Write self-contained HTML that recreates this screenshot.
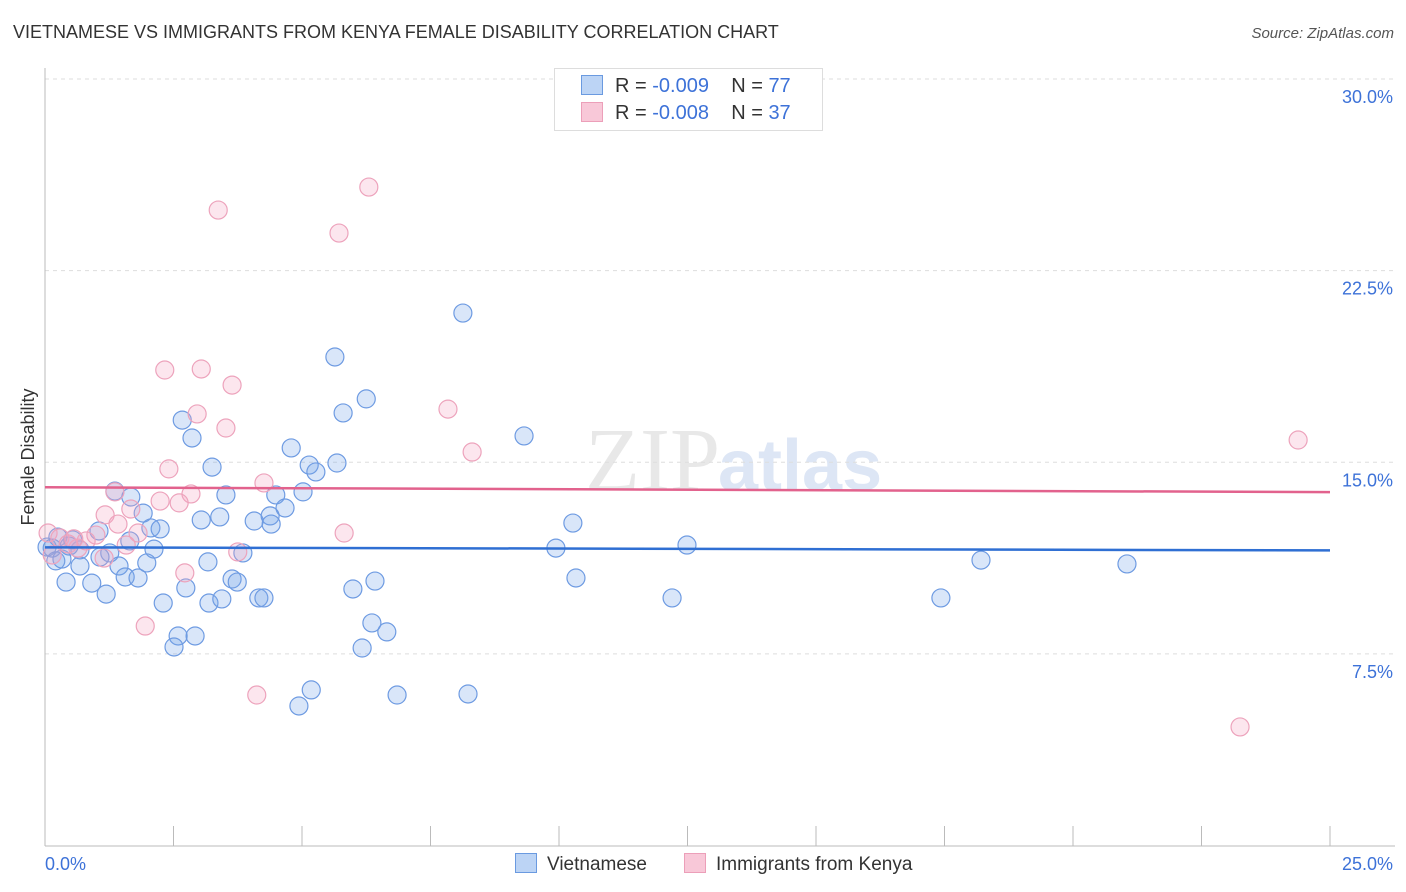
<!DOCTYPE html>
<html><head><meta charset="utf-8"><style>
body{margin:0;background:#fff;font-family:"Liberation Sans",sans-serif;}
#wrap{position:relative;width:1406px;height:892px;overflow:hidden;}
.t{position:absolute;white-space:nowrap;}
</style></head><body>
<div id="wrap">
<div class="t" style="left:13px;top:22px;font-size:18px;color:#333;">VIETNAMESE VS IMMIGRANTS FROM KENYA FEMALE DISABILITY CORRELATION CHART</div>
<div class="t" style="right:12px;top:25px;font-size:15px;color:#555;font-style:italic;">Source: ZipAtlas.com</div>
<svg id="svg" width="1406" height="892" style="position:absolute;left:0;top:0"></svg>
</div>
<script>
const yTicks=[7.5,15,22.5,30];
const xTickLabels=["0.0%","25.0%"];
const blueX=[],blueY=[],pinkX=[],pinkY=[];
const bluePx=[[182,420],[192,438],[212,467],[335,357],[463,313],[366,399],[343,413],[291,448],[309,465],[316,472],[337,463],[524,436],[115,491],[131,497],[226,495],[276,495],[303,492],[285,508],[143,513],[201,520],[220,517],[254,521],[270,516],[271,524],[573,523],[99,531],[151,528],[160,529],[58,537],[130,541],[73,540],[47,547],[52,548],[110,553],[154,549],[243,553],[556,548],[687,545],[56,561],[62,559],[80,566],[119,566],[147,563],[208,562],[981,560],[1127,564],[125,577],[138,578],[66,582],[92,583],[232,579],[237,582],[375,581],[576,578],[106,594],[163,603],[186,588],[209,603],[222,599],[259,598],[264,598],[353,589],[672,598],[941,598],[372,623],[387,632],[178,636],[195,636],[174,647],[362,648],[311,690],[299,706],[397,695],[468,694],[80,550],[100,557],[69,546]];
const pinkPx=[[369,187],[218,210],[339,233],[165,370],[201,369],[232,385],[448,409],[197,414],[226,428],[472,452],[1298,440],[169,469],[264,483],[191,494],[160,501],[179,503],[131,509],[105,515],[118,524],[344,533],[138,533],[96,535],[126,545],[238,552],[104,558],[185,573],[145,626],[257,695],[1240,727],[48,533],[60,538],[68,544],[78,548],[86,541],[52,555],[115,492],[74,539]];
bluePx.forEach(p=>{blueX.push(+((p[0]-45)/1285*25).toFixed(2));blueY.push(+((845.5-p[1])/25.55).toFixed(2));});
pinkPx.forEach(p=>{pinkX.push(+((p[0]-45)/1285*25).toFixed(2));pinkY.push(+((845.5-p[1])/25.55).toFixed(2));});
const blueTrend=[11.67,11.55];
const pinkTrend=[14.02,13.83];

const X=v=>45+v/25*1285, Y=v=>845.5-v*25.55;
const svg=document.getElementById('svg');const NS='http://www.w3.org/2000/svg';
function mk(tag,attrs,parent){const e=document.createElementNS(NS,tag);for(const k in attrs)e.setAttribute(k,attrs[k]);(parent||svg).appendChild(e);return e;}
let e;
e=mk('text',{x:720,y:490,'font-size':90,'font-family':'Liberation Serif',fill:'#e8e8e8','text-anchor':'end'});e.textContent='ZIP';


e=mk('text',{x:718,y:490,'font-size':72,'font-family':'Liberation Sans',fill:'#dde6f5','font-weight':'bold'});e.textContent='atlas';


yTicks.forEach(v=>{
 const l=mk('line',{x1:45,x2:1395,y1:Y(v),y2:Y(v),stroke:'#ddd','stroke-dasharray':'4,4'});
 
 
 const t=mk('text',{x:1393,y:Y(v)+24,'font-size':18,fill:'#3d72d8','text-anchor':'end'});t.textContent=v.toFixed(1)+'%';
 
 
});
e=mk('line',{x1:45,x2:45,y1:68,y2:846,stroke:'#bbb'});


e=mk('line',{x1:45,x2:1395,y1:846,y2:846,stroke:'#bbb'});


for(let i=0;i<=10;i++){const tk=mk('line',{x1:X(i*2.5),x2:X(i*2.5),y1:826,y2:846,stroke:'#bbb'});
 
 }
e=mk('text',{x:45,y:870,'font-size':18,fill:'#3d72d8'});e.textContent=xTickLabels[0];


e=mk('text',{x:1393,y:870,'font-size':18,fill:'#3d72d8','text-anchor':'end'});e.textContent=xTickLabels[1];


e=mk('text',{x:34,y:457,'font-size':18,fill:'#333','text-anchor':'middle',transform:'rotate(-90 34 457)'});e.textContent='Female Disability';


blueX.forEach((x,i)=>{const c=mk('circle',{cx:X(x),cy:Y(blueY[i]),r:9,fill:'rgba(120,165,235,0.28)',stroke:'#6e9be2','stroke-width':1.2});
 
 });
pinkX.forEach((x,i)=>{const c=mk('circle',{cx:X(x),cy:Y(pinkY[i]),r:9,fill:'rgba(245,165,195,0.28)',stroke:'#eda3bc','stroke-width':1.2});
 
 });
e=mk('line',{x1:X(0),x2:X(25),y1:Y(blueTrend[0]),y2:Y(blueTrend[1]),stroke:'#2f6fd3','stroke-width':2.5});


e=mk('line',{x1:X(0),x2:X(25),y1:Y(pinkTrend[0]),y2:Y(pinkTrend[1]),stroke:'#e2628d','stroke-width':2.5});


</script>
<div class="t" style="left:554px;top:68px;width:267px;height:61px;border:1px solid #ddd;background:#fff;font-size:20px;color:#333;">
 <div style="position:absolute;left:26px;top:6px;"><span style="display:inline-block;width:20px;height:18px;background:#bcd4f5;border:1px solid #6a9ae0;vertical-align:-3px;margin-right:12px"></span>R = <span style="color:#3d72d8">-0.009</span>&nbsp;&nbsp;&nbsp; N = <span style="color:#3d72d8">77</span></div>
 <div style="position:absolute;left:26px;top:33px;"><span style="display:inline-block;width:20px;height:18px;background:#f8c8d8;border:1px solid #ec9fb9;vertical-align:-3px;margin-right:12px"></span>R = <span style="color:#3d72d8">-0.008</span>&nbsp;&nbsp;&nbsp; N = <span style="color:#3d72d8">37</span></div>
</div>
<div class="t" style="left:515px;top:853px;font-size:19px;color:#333;"><span style="display:inline-block;width:20px;height:18px;background:#bcd4f5;border:1px solid #6a9ae0;vertical-align:-3px;margin-right:10px"></span>Vietnamese</div>
<div class="t" style="left:684px;top:853px;font-size:19px;color:#333;"><span style="display:inline-block;width:20px;height:18px;background:#f8c8d8;border:1px solid #ec9fb9;vertical-align:-3px;margin-right:10px"></span>Immigrants from Kenya</div>
</body></html>
